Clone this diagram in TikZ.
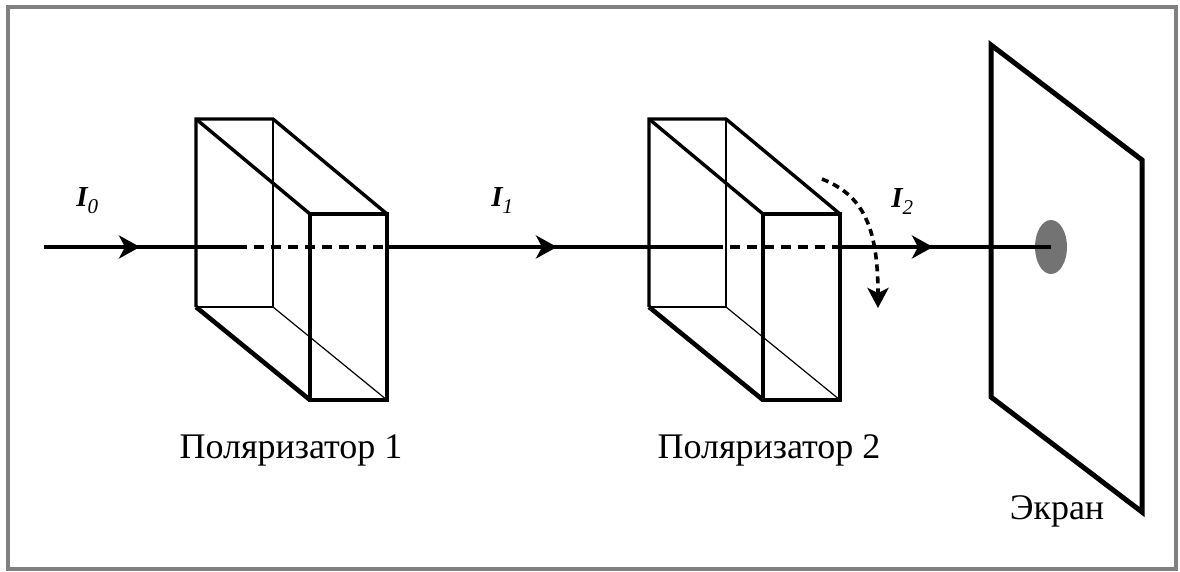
\documentclass[tikz,border=0pt]{standalone}
\usepackage{fontspec}
\setmainfont{Liberation Serif}
\usetikzlibrary{arrows.meta}

\tikzset{
  beam/.style={line width=2pt},
  hidden/.style={line width=2pt, dash pattern=on 5pt off 3.5pt},
  edge/.style={line width=1.7pt},
  thinedge/.style={line width=0.6pt},
  face/.style={line width=2.3pt},
  ray/.style={line width=2pt, -{Stealth[length=10.5pt,width=11.5pt,inset=3pt]}},
  lbl/.style={font=\fontsize{18}{20}\selectfont, anchor=base},
  ilbl/.style={font=\fontsize{14.5}{16}\selectfont, anchor=base west, inner sep=0pt},
}
\newcommand{\intens}[1]{{\bfseries\itshape I}\raisebox{-0.5ex}{\fontsize{10.5}{12}\selectfont\itshape #1}}

\begin{document}
\begin{tikzpicture}[x=0.5pt, y=-0.5pt, line join=miter]
\useasboundingbox (0,0) rectangle (1180,572);
\draw[line width=1.6pt, black!50] (8,7) rectangle (1176,569);

% the two polarizer plates
\foreach \dx in {0,453} {
  \begin{scope}[shift={(\dx,0)}]
    \draw[thinedge] (273,119) -- (273,307) -- (196,307);
    \draw[thinedge] (273,307) -- (387,400);
    \draw[edge] (196,307) -- (196,119) -- (273,119) -- (387,214);
    \draw[edge] (196,119) -- (310,214);
    \draw[face] (196,307) -- (310,400);
    \draw[face] (310,214) rectangle (387,400);
  \end{scope}
}
\node[lbl] (pol1) at (291,459) {Поляризатор 1};
\node[lbl] (pol2) at (769,459) {Поляризатор 2};

% screen with the light spot
\draw[line width=2.5pt] (991,45) -- (1142,160) -- (1142,512) -- (991,397) -- cycle;
\node[lbl] (scr) at (1057,520) {Экран};
\coordinate (spot) at (1051,247);
\fill[black!55] (spot) ellipse [x radius=8pt, y radius=13.5pt];

% light beam
\coordinate (src) at (44,247);
\coordinate (in1) at (237,247);
\coordinate (out1) at (387,247);
\coordinate (in2) at (713,247);
\coordinate (out2) at (839,247);
\draw[beam] (src) -- (in1);
\draw[hidden] (in1) -- (out1);
\draw[beam] (out1) -- (in2);
\draw[hidden] (in2) -- (out2);
\draw[beam] (out2) -- (spot);
\draw[ray] (src) -- (140,247);
\draw[ray] (out1) -- (557,247);
\draw[ray] (out2) -- (933,247);

\node[ilbl] (i0) at (76,207) {\intens{0}};
\node[ilbl] (i1) at (491,207) {\intens{1}};
\node[ilbl] (i2) at (891,208) {\intens{2}};

% rotation of the second polarizer
\coordinate (rotA) at (822,179);
\coordinate (rotB) at (878,308);
\draw[line width=1.8pt, dash pattern=on 3.5pt off 2.5pt, -{Stealth[length=10pt,width=10.5pt,inset=2.5pt]}]
  (rotA) .. controls (862,195) and (878,225) .. (rotB);
\end{tikzpicture}
\end{document}
